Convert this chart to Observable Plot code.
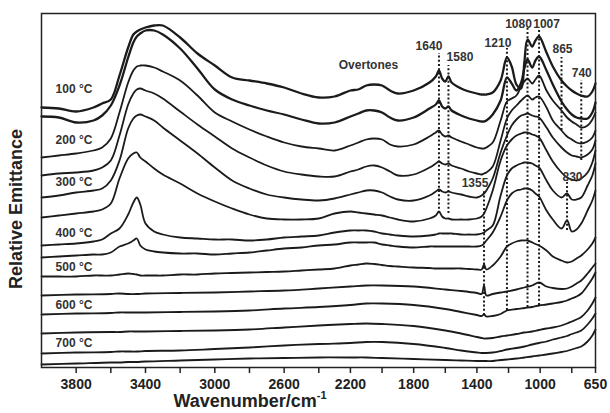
<!DOCTYPE html>
<html><head><meta charset="utf-8">
<script src="https://cdn.jsdelivr.net/npm/d3@7"></script>
<script src="https://cdn.jsdelivr.net/npm/@observablehq/plot@0.6"></script>
<style>body{margin:0;background:#fff}#chart{width:610px;height:413px}</style>
</head><body><div id="chart"></div>
<script>
// Wavenumber grid (cm-1) used by the 100–500 °C spectra
const wnFull = [4000, 3900, 3800, 3700, 3650, 3600, 3550, 3500, 3470, 3450, 3430, 3400, 3350, 3300, 3200, 3100, 3000, 2900, 2800, 2700, 2600, 2500, 2400, 2300, 2200, 2150, 2100, 2050, 2000, 1950, 1900, 1800, 1700, 1660, 1640, 1620, 1600, 1580, 1560, 1500, 1450, 1400, 1370, 1355, 1340, 1300, 1250, 1210, 1180, 1150, 1120, 1100, 1080, 1050, 1030, 1007, 960, 920, 865, 830, 800, 770, 740, 700, 670, 650];
// Relative emittance (stacked, arbitrary units)
const t100 = [260, 259, 256, 260, 264, 268, 292, 320, 333, 336, 338, 340, 342, 342, 330, 314, 302, 290, 287, 284, 280, 274, 270, 271, 277, 278, 282, 283, 282, 277, 274, 277, 285, 291, 297, 289, 286, 291, 285, 279, 276, 274, 273, 273, 273, 275, 287, 310, 301, 283, 279, 305, 328, 321, 327, 331, 315, 301, 287, 281, 277, 274, 272, 271, 276, 284];
const t150 = [251, 250, 245, 247, 252, 262, 282, 310, 325, 331, 334, 337, 337, 333, 319, 299, 278, 268, 262, 257, 253, 248, 244, 245, 251, 254, 257, 257, 255, 250, 247, 250, 259, 263, 267, 261, 259, 261, 257, 252, 249, 247, 246, 246, 247, 253, 267, 290, 284, 277, 285, 299, 308, 300, 307, 311, 297, 283, 266, 258, 253, 250, 249, 249, 255, 265];
const t200 = [210, 212, 214, 217, 220, 229, 255, 285, 297, 301, 302, 302, 300, 296, 287, 272, 255, 246, 238, 231, 225, 221, 219, 217, 222, 225, 228, 229, 228, 223, 221, 223, 231, 235, 237, 233, 231, 232, 230, 226, 223, 220, 219, 219, 220, 225, 247, 266, 269, 272, 281, 286, 289, 284, 288, 292, 277, 267, 257, 250, 246, 243, 240, 242, 248, 255];
const t250 = [192, 194, 195, 197, 200, 207, 232, 263, 274, 278, 279, 277, 274, 269, 256, 243, 231, 219, 210, 202, 196, 193, 191, 191, 196, 198, 201, 202, 200, 196, 192, 193, 200, 204, 206, 204, 203, 204, 202, 199, 196, 194, 193, 194, 195, 201, 227, 249, 257, 262, 267, 270, 272, 268, 270, 271, 260, 247, 237, 231, 228, 225, 224, 226, 230, 237];
const t300 = [170, 172, 175, 177, 179, 187, 207, 239, 249, 252, 253, 251, 247, 240, 227, 214, 200, 187, 179, 173, 170, 168, 167, 169, 173, 175, 177, 177, 175, 171, 168, 167, 172, 176, 178, 176, 175, 176, 175, 173, 171, 170, 172, 174, 177, 189, 215, 232, 242, 248, 252, 253, 254, 252, 251, 250, 240, 230, 220, 215, 212, 211, 210, 213, 218, 227];
const t350 = [150, 152, 154, 156, 158, 164, 189, 209, 214, 215, 210, 206, 199, 193, 184, 174, 166, 159, 153, 149, 148, 148, 149, 154, 156, 155, 154, 153, 152, 150, 148, 146, 149, 152, 156, 151, 149, 149, 148, 148, 148, 149, 151, 154, 159, 177, 207, 222, 228, 232, 234, 235, 235, 233, 232, 230, 217, 206, 195, 190, 188, 187, 189, 195, 205, 217];
const t400 = [122, 123, 124, 126, 128, 134, 139, 153, 165, 170, 163, 144, 136, 133, 130, 129, 128, 128, 127, 128, 130, 131, 132, 135, 137, 137, 137, 136, 134, 133, 132, 131, 132, 133, 134, 134, 134, 134, 134, 133, 133, 133, 134, 135, 137, 142, 172, 192, 199, 202, 204, 205, 205, 204, 202, 200, 187, 177, 170, 174, 168, 168, 170, 182, 192, 204];
const t450 = [110, 111, 112, 113, 113, 115, 121, 124, 127, 129, 122, 118, 116, 115, 114, 114, 113, 114, 115, 117, 119, 120, 122, 123, 125, 125, 125, 125, 123, 122, 121, 120, 121, 121, 121, 121, 121, 121, 121, 121, 121, 121, 122, 124, 127, 135, 151, 167, 174, 177, 178, 179, 179, 177, 174, 171, 157, 148, 139, 147, 136, 138, 144, 157, 167, 177];
const t500 = [91, 91, 91, 92, 92, 92, 93, 94, 93.5, 93, 92, 92, 92, 92, 93, 93, 94, 94.5, 95, 95.5, 96, 97, 98, 99, 102, 103, 104, 103.5, 102.5, 101.5, 101, 100, 99.5, 99, 99, 99, 99, 99, 99, 99, 98.5, 98, 98, 103, 98, 102, 111, 121, 124, 126, 127, 127, 127, 125, 123.5, 122, 117, 111, 107, 105, 106, 109, 112, 118, 124, 130];

// Coarser grid for the flat high-temperature spectra
const wnSparse = [4000, 3800, 3600, 3550, 3500, 3450, 3400, 3200, 3000, 2800, 2600, 2400, 2200, 2100, 2000, 1800, 1600, 1500, 1400, 1370, 1355, 1340, 1300, 1250, 1210, 1150, 1100, 1050, 1007, 960, 920, 865, 830, 800, 770, 740, 700, 670, 650];
const t550 = [72, 73, 73.5, 74, 73.5, 73.5, 74, 74.5, 75, 76, 77, 79, 81, 82, 82, 81, 78, 76.5, 74.5, 73.5, 82, 72, 73.5, 75, 76, 78, 80, 82, 85, 81, 79.5, 78.5, 79, 81, 84, 87, 94, 100, 104];
const t600 = [53, 54, 54.5, 55, 55, 55, 55, 55.5, 56, 57, 59, 60.5, 62.5, 64, 64, 62.5, 58.5, 55.5, 52.5, 51.5, 53, 51, 51.5, 53.5, 57, 58.5, 59.5, 60.5, 62, 63, 64, 65.5, 67, 69, 71, 74, 82, 89, 95];
const t650 = [34, 35, 35.5, 35.5, 36, 36, 36, 36.5, 37, 38, 40, 42, 43.5, 44, 43.5, 41.5, 37, 34, 30.5, 29.5, 29, 29, 29.5, 31, 32, 33.5, 35, 36, 37.5, 39, 40, 42, 44, 46, 48, 50.5, 57, 64, 70];
const t700 = [14, 15, 15.5, 16, 16, 16, 16.5, 17, 18.5, 20, 22, 23.5, 24.5, 25.5, 25.5, 23.5, 19.5, 17, 15, 14.5, 14.5, 14.5, 15, 16.5, 18, 19.5, 21, 23, 24.5, 26, 28, 30, 31.5, 33.5, 35, 37, 43, 49, 54];
const t750 = [3, 4, 5, 5, 5.5, 5.5, 6, 7, 8, 9, 9.5, 10, 10, 10, 9.5, 8.5, 7.5, 7, 6.5, 6.5, 6.5, 6.5, 6.5, 7.5, 8, 9, 10, 11, 12, 13, 14, 15.5, 16.5, 18, 19.5, 21, 26, 32, 38];

// Temperature labels
const tempLabels = ["100 °C", "200 °C", "300 °C", "400 °C", "500 °C", "600 °C", "700 °C"];
const tempLabelY = [278, 227, 185, 134, 100, 62, 24];
const tempLabelWn = 3919;

// Band markers
const bandWn = [1640, 1580, 1210, 1080, 1007, 865, 740, 1355, 830];
const bandTop = [314, 302, 319, 339, 339, 310, 287, 177, 185];
const bandBottom = [154, 154, 57, 60, 62, 237, 207, 52, 137];
const bandLabelY = [321, 310, 324.5, 343, 343, 318, 294.5, 184, 190];
const bandLabelDx = [-10, 11.5, -9, -9, 7.5, 1, 0.5, -9, 5.5];

const overtoneLabel = "Overtones";
const overtoneWn = 2086, overtoneY = 302;

const xTicks = [3800, 3600, 3400, 3200, 3000, 2800, 2600, 2400, 2200, 2000, 1800, 1600, 1400, 1200, 1000, 800, 650];
const xTickLabels = [3800, 3400, 3000, 2600, 2200, 1800, 1400, 1000, 650];

const rows = [];
[["100", t100], ["150", t150], ["200", t200], ["250", t250], ["300", t300], ["350", t350], ["400", t400], ["450", t450], ["500", t500]]
  .forEach(([s, v]) => v.forEach((e, i) => rows.push({series: s, wn: wnFull[i], e})));
[["550", t550], ["600", t600], ["650", t650], ["700", t700], ["750", t750]]
  .forEach(([s, v]) => v.forEach((e, i) => rows.push({series: s, wn: wnSparse[i], e})));

const bands = bandWn.map((wn, i) => ({wn, top: bandTop[i], bottom: bandBottom[i], ly: bandLabelY[i], dx: bandLabelDx[i], label: String(wn)}));
const temps = tempLabels.map((t, i) => ({t, y: tempLabelY[i], x: tempLabelWn}));

const ink = "#1b1b1b";
const plot = Plot.plot({
  width: 610, height: 413,
  marginTop: 13, marginLeft: 41, marginRight: 15, marginBottom: 46,
  style: {fontFamily: "'Liberation Sans', Arial, sans-serif", fontWeight: "bold", background: "#fff", color: "#222"},
  x: {type: "linear", domain: [4000, 2400, 650], range: [41, 318.3, 595]},
  y: {type: "linear", domain: [0, 354], axis: null},
  marks: [
    Plot.line(rows, {x: "wn", y: "e", z: "series", curve: "catmull-rom", stroke: ink,
      strokeWidth: d => (d.series === "100" || d.series === "150") ? 2.3 : 1.8}),
    Plot.ruleX(bands, {x: "wn", y1: "bottom", y2: "top", stroke: ink, strokeWidth: 2, strokeDasharray: "2,2.2"}),
    ...bands.map(b => Plot.text([b], {x: "wn", y: "ly", text: "label", dx: b.dx, fontSize: 12, fontWeight: "bold", fill: "#333"})),
    Plot.text([overtoneLabel], {x: () => overtoneWn, y: () => overtoneY, text: d => d, fontSize: 12, fontWeight: "bold", fill: "#333"}),
    Plot.text(temps, {x: "x", y: "y", text: "t", textAnchor: "start", fontSize: 12, fontWeight: "bold", fill: "#333"}),
    Plot.frame({stroke: "#222", strokeWidth: 1.5}),
    Plot.axisX({ticks: xTicks, tickSize: 6, tickPadding: 6, strokeWidth: 1.5, fontSize: 14, fontWeight: "bold",
      tickFormat: d => xTickLabels.includes(d) ? String(d) : "", label: null})
  ]
});
document.getElementById("chart").appendChild(plot);

const svg = d3.select(plot);
const xt = svg.append("text").attr("x", 250).attr("y", 407).attr("font-size", 18).attr("font-weight", "bold").attr("fill", "#222");
xt.append("tspan").text("Wavenumber/cm");
xt.append("tspan").attr("font-size", 11).attr("dy", -8).text("-1");
svg.append("text").attr("transform", "translate(22,209) rotate(-90)").attr("text-anchor", "middle")
  .attr("font-size", 18).attr("font-weight", "bold").attr("fill", "#222").text("Relative Emittance");
</script>
</body></html>
